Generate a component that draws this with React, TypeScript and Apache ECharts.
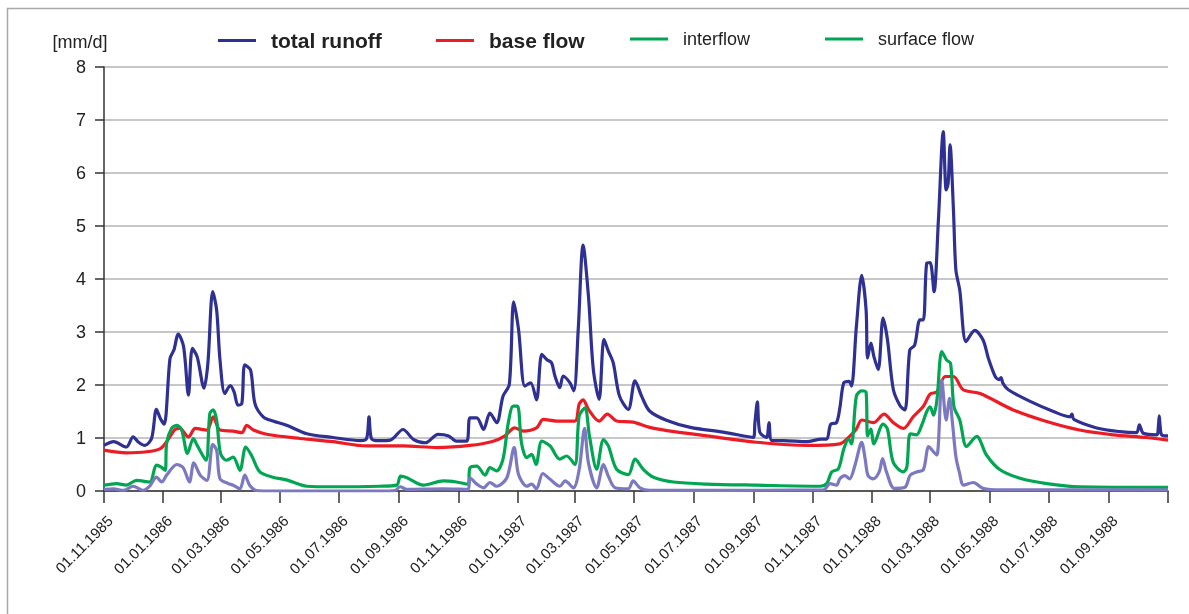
import React, { useEffect, useRef } from "react";
import * as echarts from "echarts";

// x values are days since 01.11.1985
const tickDays = [0, 61, 120, 181, 242, 304, 365, 426, 485, 546, 607, 669, 730, 791, 851, 912, 973, 1035, 1096];
const tickLabels = [
  "01.11.1985", "01.01.1986", "01.03.1986", "01.05.1986", "01.07.1986", "01.09.1986",
  "01.11.1986", "01.01.1987", "01.03.1987", "01.05.1987", "01.07.1987", "01.09.1987",
  "01.11.1987", "01.01.1988", "01.03.1988", "01.05.1988", "01.07.1988", "01.09.1988",
];

const seriesNames = ["total runoff", "base flow", "interflow", "surface flow"];

const totalRunoff = [
  [0, 0.86], [10, 0.93], [23, 0.83], [30, 1.02], [35, 0.93], [42, 0.86], [49, 0.99], [54, 1.54], [58, 1.37], [62, 1.26],
  [68, 2.5], [72, 2.66], [76.5, 2.96], [82, 2.72], [87, 1.81], [91, 2.69], [96, 2.53], [103, 1.94], [107, 2.41], [112, 3.76],
  [116, 3.42], [119.5, 2.47], [124.5, 1.84], [130, 1.99], [134, 1.87], [138, 1.62], [142, 1.65], [145, 2.38], [151, 2.28],
  [155.5, 1.65], [164, 1.4], [174, 1.32], [188, 1.24], [209, 1.08], [236, 1.01], [264, 0.95], [270.5, 0.99], [273, 1.4],
  [275.5, 0.99], [283, 0.95], [295, 0.96], [308, 1.16], [319, 0.97], [331, 0.91], [344, 1.07], [355, 1.04], [363, 0.94],
  [373.5, 0.94], [377, 1.38], [384, 1.38], [391, 1.16], [397.5, 1.47], [404.5, 1.29], [411, 1.79], [417.5, 2.01], [422, 3.57],
  [427, 3.05], [433.5, 1.98], [439.5, 2.04], [445.5, 1.72], [451, 2.58], [456, 2.48], [461, 2.42], [464.5, 2.17], [469.5, 1.95],
  [473, 2.17], [480, 2.04], [484, 1.89], [488.5, 3.05], [493.5, 4.64], [499, 3.68], [504, 2.3], [510, 1.73], [515, 2.86],
  [519.5, 2.64], [524.5, 2.42], [531, 1.79], [540, 1.54], [547, 2.08], [554, 1.78], [562, 1.51], [580, 1.33], [604, 1.2],
  [638, 1.11], [669, 1.01], [670.5, 1.29], [673, 1.68], [675.5, 1.11], [682.5, 1.01], [685, 1.29], [688, 0.95], [700, 0.95],
  [724, 0.93], [739, 0.98], [744.5, 0.98], [748.5, 1.26], [754.5, 1.29], [758, 1.57], [762, 2.04], [767.5, 2.07], [770, 1.98],
  [775, 3.1], [780.5, 4.07], [785, 3.42], [786.5, 2.51], [790, 2.79], [793, 2.54], [797.5, 2.29], [802.5, 3.26], [807, 2.86],
  [813, 1.92], [820, 1.61], [825, 1.53], [830, 2.66], [835, 2.75], [840.5, 3.23], [844, 3.23], [847.5, 4.3], [851, 4.31],
  [855, 3.76], [859.5, 5.11], [864.5, 6.78], [867.5, 5.68], [869.5, 5.8], [871.5, 6.53], [875, 5.3], [877.5, 4.17],
  [881.5, 3.79], [888, 2.82], [897, 3.03], [905.5, 2.85], [911, 2.5], [918, 2.16], [922, 2.1], [924, 2.14], [926, 2.03],
  [931.5, 1.91], [954, 1.69], [978, 1.5], [995, 1.4], [997, 1.45], [999, 1.35], [1022.5, 1.19], [1046.5, 1.12],
  [1063.5, 1.1], [1066.5, 1.25], [1070.5, 1.09], [1084.5, 1.06], [1086, 1.2], [1087, 1.42], [1088, 1.2], [1089.5, 1.06],
  [1096, 1.04],
];

const baseFlow = [
  [0, 0.77], [23, 0.72], [44, 0.74], [58, 0.8], [64.5, 0.93], [73, 1.16], [78, 1.18], [87, 1.02], [94, 1.18], [106, 1.15],
  [112.5, 1.4], [119.5, 1.15], [133, 1.13], [142, 1.1], [147, 1.24], [154, 1.15], [167.5, 1.07], [202, 0.99], [236, 0.93],
  [270.5, 0.85], [308, 0.85], [343, 0.82], [377, 0.86], [401, 0.94], [413, 1.04], [423, 1.19], [432, 1.13], [445.5, 1.19],
  [452.5, 1.35], [466, 1.32], [485, 1.32], [489.5, 1.64], [493.5, 1.72], [499, 1.54], [510, 1.32], [518.5, 1.45], [528, 1.32],
  [545, 1.3], [562, 1.2], [580, 1.14], [621, 1.04], [672, 0.92], [724, 0.86], [758, 0.89], [768.5, 1.04], [775, 1.17],
  [780.5, 1.34], [792.5, 1.29], [803.5, 1.45], [813, 1.29], [823.5, 1.18], [833.5, 1.4], [844, 1.6], [851, 1.83], [858, 1.87],
  [866.5, 2.16], [875, 2.16], [885, 1.91], [902.5, 1.84], [936.5, 1.53], [971, 1.31], [1005, 1.15], [1039.5, 1.06],
  [1074, 1.01], [1096, 0.96],
];

const interflow = [
  [0, 0.11], [13, 0.14], [23, 0.11], [33.5, 0.2], [47, 0.17], [54, 0.49], [59, 0.45], [63, 0.39], [64.5, 0.9], [69.5, 1.18],
  [75, 1.24], [80, 1.15], [86, 0.71], [92, 0.99], [96, 0.86], [105, 0.58], [109, 1.46], [112.5, 1.53], [116, 1.34], [120, 0.71],
  [126, 0.58], [133, 0.64], [140, 0.39], [146, 0.83], [152, 0.67], [160.5, 0.36], [174, 0.26], [188, 0.21], [209, 0.09],
  [236, 0.08], [284, 0.09], [301.5, 0.11], [305.5, 0.28], [312, 0.25], [329, 0.11], [349.5, 0.19], [363, 0.17], [375, 0.13],
  [377, 0.44], [384, 0.47], [392.5, 0.3], [397.5, 0.44], [404.5, 0.38], [411, 0.6], [416.5, 1.29], [421.5, 1.6], [426, 1.6],
  [430, 0.91], [435.5, 0.63], [440.5, 0.69], [445, 0.5], [451, 0.94], [459.5, 0.85], [469.5, 0.6], [476.5, 0.66], [485, 0.5],
  [489.5, 1.42], [495.5, 1.57], [500, 1.04], [507.5, 0.41], [514.5, 0.97], [519.5, 0.85], [528, 0.41], [540, 0.31], [547, 0.6],
  [555.5, 0.41], [566, 0.26], [586.5, 0.17], [621, 0.13], [672, 0.11], [737.5, 0.09], [744.5, 0.14], [749.5, 0.36],
  [756.5, 0.42], [762, 0.79], [767, 0.98], [770, 0.89], [775, 1.79], [780.5, 1.89], [785, 1.86], [786.5, 1.04], [790, 1.17],
  [793, 0.89], [802.5, 1.26], [807, 1.17], [813, 0.54], [823.5, 0.36], [827, 0.45], [830.5, 1.08], [837, 1.06], [842.5, 1.25],
  [847.5, 1.5], [851, 1.59], [854.5, 1.43], [858, 1.72], [863, 2.63], [868, 2.47], [872, 2.41], [875.5, 1.59], [881.5, 1.34],
  [888.5, 0.84], [899, 1.03], [909, 0.68], [923, 0.4], [943.5, 0.24], [971, 0.14], [1005, 0.08], [1096, 0.07],
];

const surfaceFlow = [
  [0, 0.03], [10, 0.04], [20, 0.01], [30, 0.09], [40.5, 0.01], [47, 0.09], [54, 0.26], [59.5, 0.17], [64.5, 0.3], [75, 0.5],
  [81.5, 0.44], [88, 0.17], [92.5, 0.53], [99, 0.3], [106, 0.2], [112, 0.88], [116, 0.77], [119.5, 0.23], [128, 0.14],
  [133, 0.11], [140, 0.04], [145, 0.3], [150, 0.11], [157, 0.01], [174, 0], [284, 0], [300, 0.01], [305, 0.08], [312, 0.03],
  [349, 0.04], [375, 0.03], [377, 0.25], [384, 0.13], [391, 0.06], [397.5, 0.16], [404.5, 0.09], [415, 0.25], [422.5, 0.82],
  [427, 0.31], [435.5, 0.09], [440.5, 0.13], [445.5, 0.04], [452, 0.33], [459.5, 0.22], [469.5, 0.09], [475, 0.19],
  [483.5, 0.06], [489.5, 0.41], [495, 1.18], [499, 0.53], [507.5, 0.06], [514.5, 0.5], [519.5, 0.28], [526.5, 0.06],
  [540, 0.04], [545, 0.19], [552, 0.06], [562, 0.01], [741, 0.02], [748, 0.14], [754.5, 0.11], [758, 0.23], [763, 0.29],
  [768, 0.23], [773.5, 0.48], [780.5, 0.92], [784, 0.61], [787, 0.29], [792.5, 0.23], [798.5, 0.36], [802, 0.61], [806, 0.36],
  [814, 0.05], [825, 0.07], [830.5, 0.3], [837, 0.36], [844, 0.4], [849.5, 0.84], [854.5, 0.74], [858, 0.68], [863, 2.09],
  [867.5, 1.34], [871, 1.75], [874, 1.28], [877.5, 0.65], [881, 0.36], [885.5, 0.11], [895.5, 0.16], [905.5, 0.05],
  [923, 0.02], [1096, 0.02],
];

const colors = ["#2e3192", "#ed1c24", "#00a651", "#7c79c0"];
const legendColors = ["#2e3192", "#ed1c24", "#00a651", "#00a651"];
const FONT = "'Liberation Sans', Arial, sans-serif";

export default function App() {
  const ref = useRef<HTMLDivElement>(null);
  useEffect(() => {
    document.body.style.margin = "0";
    const chart = echarts.init(ref.current!, null, { renderer: "svg" });
    const allData = [totalRunoff, baseFlow, interflow, surfaceFlow];
    const legendLeft = [218, 436, 630, 825];
    const option: any = {
      animation: false,
      textStyle: { fontFamily: FONT },
      graphic: [
        {
          type: "rect",
          shape: { x: 7.5, y: 8.5, width: 1300, height: 800 },
          style: { fill: "none", stroke: "#a8a8a8", lineWidth: 1.5 },
          silent: true,
        },
      ],
      legend: seriesNames.map((n, i) => ({
        data: [{ name: n, itemStyle: { color: legendColors[i] } }],
        left: legendLeft[i],
        top: 30,
        padding: 0,
        icon: "rect",
        itemWidth: 38,
        itemHeight: 3,
        selectedMode: false,
        textStyle: {
          fontFamily: FONT,
          fontSize: i < 2 ? 21 : 18,
          fontWeight: i < 2 ? "bold" : "normal",
          color: "#222",
          padding: [0, 0, 0, 10],
        },
      })),
      grid: { left: 104, right: 21, top: 67, bottom: 123, containLabel: false },
      xAxis: {
        type: "value",
        min: 0,
        max: 1096,
        splitLine: { show: false },
        axisLine: { show: true, lineStyle: { color: "#333", width: 1.5 } },
        axisTick: {
          show: true,
          length: 12,
          lineStyle: { color: "#333", width: 1.5 },
          customValues: tickDays,
        },
        axisLabel: {
          customValues: tickDays.slice(0, tickLabels.length),
          rotate: 45,
          margin: 14,
          fontSize: 15,
          fontFamily: FONT,
          color: "#222",
          verticalAlign: "top",
          padding: [6, 5, 0, 0],
          formatter: (v: number) => {
            const i = tickDays.indexOf(Math.round(v));
            return i >= 0 && i < tickLabels.length ? tickLabels[i] : "";
          },
        },
      },
      yAxis: {
        type: "value",
        min: 0,
        max: 8,
        interval: 1,
        name: "[mm/d]",
        nameLocation: "end",
        nameGap: 25,
        nameTextStyle: {
          fontSize: 18,
          fontFamily: FONT,
          color: "#222",
          align: "center",
          verticalAlign: "middle",
          padding: [0, 48, 0, 0],
        },
        axisLine: { show: true, lineStyle: { color: "#333", width: 1.5 } },
        axisTick: { show: true, length: 9, lineStyle: { color: "#333", width: 1.5 } },
        axisLabel: { margin: 18, fontSize: 18, fontFamily: FONT, color: "#222" },
        splitLine: { show: true, lineStyle: { color: "#b4b4b4", width: 1.5 } },
      },
      series: seriesNames.map((n, i) => ({
        name: n,
        type: "line",
        data: allData[i],
        showSymbol: false,
        smooth: 0.3,
        lineStyle: { color: colors[i], width: 3.2 },
        itemStyle: { color: colors[i] },
        z: 2 + i,
      })),
    };
    chart.setOption(option);
    return () => chart.dispose();
  }, []);
  return <div ref={ref} style={{ position: "fixed", left: 0, top: 0, width: 1189, height: 614 }} />;
}
